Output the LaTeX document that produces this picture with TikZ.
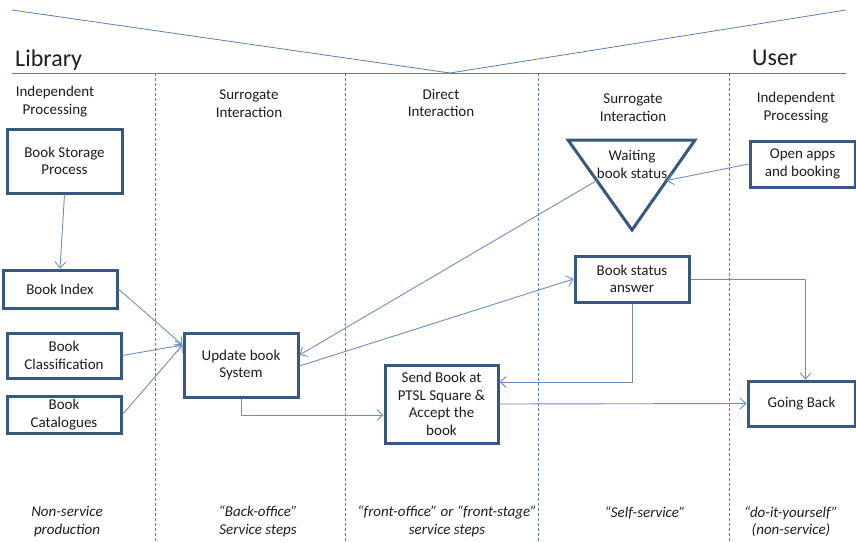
\documentclass[tikz,border=0pt]{standalone}
\usepackage{fontspec}
\setmainfont{Carlito}
\usetikzlibrary{arrows.meta, positioning, calc}
\definecolor{boxline}{HTML}{37587F}
\definecolor{flow}{HTML}{6D8EC0}
\definecolor{lane}{HTML}{5A7FB5}
\definecolor{ink}{HTML}{1E1E1E}

\tikzset{
  stepbox/.style={draw=boxline, line width=3pt, fill=white, align=center, text=ink,
    font=\fontsize{15}{17.5}\selectfont, inner sep=2pt},
  flowline/.style={draw=flow, line width=0.9pt, -{Straight Barb[length=6pt,width=11pt]}},
  lanehead/.style={align=center, text=ink, font=\fontsize{15}{17.5}\selectfont},
  lanefoot/.style={align=center, text=ink, font=\fontsize{15}{17.5}\selectfont\itshape},
  sidelabel/.style={anchor=west, text=ink, font=\fontsize{24}{28}\selectfont, inner sep=0pt},
}

\begin{document}
\begin{tikzpicture}[x=1pt, y=-1pt]
            \useasboundingbox (0,0) rectangle (856,542);

            % library / user split
            \draw[lane, line width=0.8pt] (12,10) -- (450,73) -- (846,10);
            \draw[lane, line width=0.8pt] (12,73) -- (846,73);
            \node[sidelabel] (library) at (15,60) {Library};
            \node[sidelabel] (user) at (752,58) {User};

            % swim lanes
            \foreach \x in {155,345,538,729}
                \draw[lane, line width=0.7pt, dash pattern=on 3pt off 2pt] (\x,73) -- (\x,542);

            \node[lanehead] (head1) at (55,101.5) {Independent\\Processing};
            \node[lanehead] (head2) at (249,103.5) {Surrogate\\Interaction};
            \node[lanehead] (head3) at (441,103) {Direct\\Interaction};
            \node[lanehead] (head4) at (633,107.5) {Surrogate\\Interaction};
            \node[lanehead] (head5) at (796,107.5) {Independent\\Processing};

            \node[lanefoot] (foot1) at (67,521.5) {Non-service\\production};
            \node[lanefoot] (foot2) at (258,521.5) {“Back-office”\\Service steps};
            \node[lanefoot] (foot3) at (447,521.5) {“front-office” or “front-stage”\\service steps};
            \node[lanefoot] (foot4) at (645,513) {“Self-service”};
            \node[lanefoot] (foot5) at (791,521.5) {“do-it-yourself”\\(non-service)};

            % steps
            \node[stepbox, minimum width=115pt, minimum height=64pt] (storage) at (64.5,161) {Book Storage\\Process};
            \node[stepbox, minimum width=114pt, minimum height=38pt] (index) at (60,289) {Book Index};
            \node[stepbox, minimum width=114pt, minimum height=45pt] (classif) at (64,355.5) {Book\\Classification};
            \node[stepbox, minimum width=114pt, minimum height=37pt] (catalog) at (64,414.5) {Book\\Catalogues};
            \node[stepbox, minimum width=114pt, minimum height=64pt] (update) at (241,365) {Update book\\System};
            \node[stepbox, minimum width=113pt, minimum height=78pt] (send) at (441.5,404) {Send Book at\\PTSL Square \&\\Accept the\\book};
            \node[stepbox, minimum width=114pt, minimum height=46pt] (answer) at (632,279) {Book status\\answer};
            \node[stepbox, minimum width=105pt, minimum height=46pt] (openapp) at (802.5,164) {Open apps\\and booking};
            \node[stepbox, minimum width=107pt, minimum height=45pt] (goback) at (801.5,403.5) {Going Back};

            % waiting triangle
            \coordinate (waitTL) at (568,140);
            \coordinate (waitTR) at (695,140);
            \coordinate (waitB) at (632,230);
            \draw[boxline, line width=3pt, line join=miter] (waitTL) -- (waitTR) -- (waitB) -- cycle;
            \node[lanehead] (wait) at (632,164.5) {Waiting\\book status};
            \coordinate (waitin) at ($(waitTR)!0.45!(waitB)$);
            \coordinate (waitout) at ($(waitTL)!0.45!(waitB)$);

            % flows
            \draw[flowline] (storage.south) -- (index.north);
            \draw[flowline] (index.east) -- ($(update.west)+(0,-20)$);
            \draw[flowline] (classif.east) -- ($(update.west)+(0,-20)$);
            \draw[flowline] (catalog.east) -- ($(update.west)+(0,-20)$);
            \draw[flowline] (update.south) |- ($(send.west)+(0,11)$);
            \draw[flowline] ($(update.east)+(0,1)$) -- (answer.west);
            \draw[flowline] (waitout) -- ($(update.east)+(0,-10)$);
            \draw[flowline] (openapp.west) -- (waitin);
            \draw[flowline] (answer.south) |- ($(send.east)+(0,-22)$);
            \draw[flowline] (send.east) -- (goback.west);
            \draw[flowline] (answer.east) -| ($(goback.north)+(4,0)$);
        \end{tikzpicture}
\end{document}
